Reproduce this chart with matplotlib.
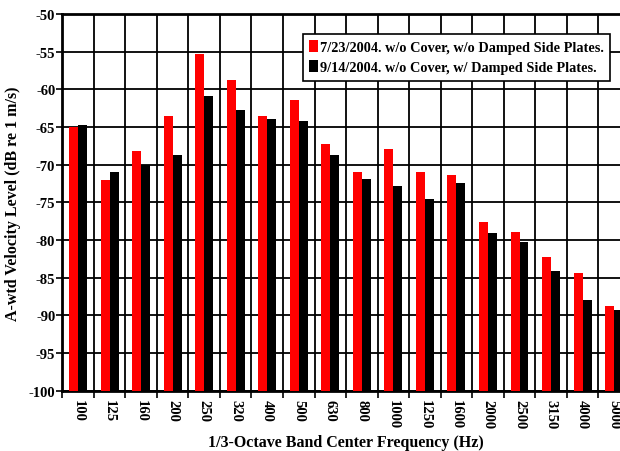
import numpy as np
import matplotlib
matplotlib.use("Agg")
import matplotlib.pyplot as plt

# Bandas de 1/3 de oitava e niveis medidos (dB re 1 m/s)
bands = ["100", "125", "160", "200", "250", "320", "400", "500", "630", "800",
         "1000", "1250", "1600", "2000", "2500", "3150", "4000", "5000"]
no_damp = [-65.0, -72.0, -68.2, -63.6, -55.3, -58.8, -63.5, -61.4, -67.3, -71.0,
           -67.9, -71.0, -71.4, -77.6, -78.9, -82.3, -84.4, -88.8]
damped = [-64.7, -71.0, -70.1, -68.7, -60.9, -62.7, -63.9, -64.2, -68.7, -71.9,
          -72.8, -74.6, -72.4, -79.1, -80.3, -84.1, -88.0, -89.3]

label1 = "7/23/2004. w/o Cover, w/o Damped Side Plates."
label2 = "9/14/2004. w/o Cover, w/ Damped Side Plates."

plt.rcParams["font.family"] = "Liberation Serif"
plt.rcParams["font.weight"] = "bold"

fig = plt.figure(figsize=(6.2, 4.52), dpi=100)
ax = fig.add_axes([0.1005, 0.1334, 0.9154, 0.8334])

x = np.arange(len(bands))
w = 0.285
base = -100
ax.bar(x - w/2, np.array(no_damp) - base, w, bottom=base, color="#ff0000", label=label1, zorder=3)
ax.bar(x + w/2, np.array(damped) - base, w, bottom=base, color="#000000", label=label2, zorder=3)

ax.set_xlim(-0.5, len(bands) - 0.5)
ax.set_ylim(-100, -50)
ax.set_yticks(np.arange(-100, -49, 5))
ax.set_yticklabels([str(v) for v in range(-100, -49, 5)], fontsize=10.5, fontweight="bold")

# grade vertical nas fronteiras entre bandas
ax.set_xticks(np.arange(len(bands)) - 0.5, minor=False)
ax.set_xticklabels([])
ax.set_xticks(x, minor=True)
ax.set_xticklabels(bands, minor=True, rotation=270, fontsize=10.5, fontweight="bold")
ax.tick_params(axis="x", which="minor", length=0, pad=6)
ax.tick_params(axis="x", which="major", length=5, width=1.2, direction="out")
ax.tick_params(axis="y", length=4, width=1.2, direction="out", pad=1)

ax.grid(True, which="major", color="black", linewidth=1.3)
ax.set_axisbelow(True)
for s in ax.spines.values():
    s.set_linewidth(2)

ax.set_xlabel("1/3-Octave Band Center Frequency (Hz)", fontsize=11.5, fontweight="bold", labelpad=4)
ax.set_ylabel("A-wtd Velocity Level (dB re 1 m/s)", fontsize=11.5, fontweight="bold")
ax.yaxis.set_label_coords(-0.073, 0.5)

leg = ax.legend(loc="upper left", bbox_to_anchor=(0.424, 0.948), borderaxespad=0, fontsize=10.3,
                handlelength=0.6, handleheight=0.9, handletextpad=0.15, borderpad=0.45,
                labelspacing=0.45, fancybox=False, framealpha=1, edgecolor="black")
leg.get_frame().set_linewidth(1.2)
leg.set_zorder(5)

plt.savefig("out.png", dpi=100)
